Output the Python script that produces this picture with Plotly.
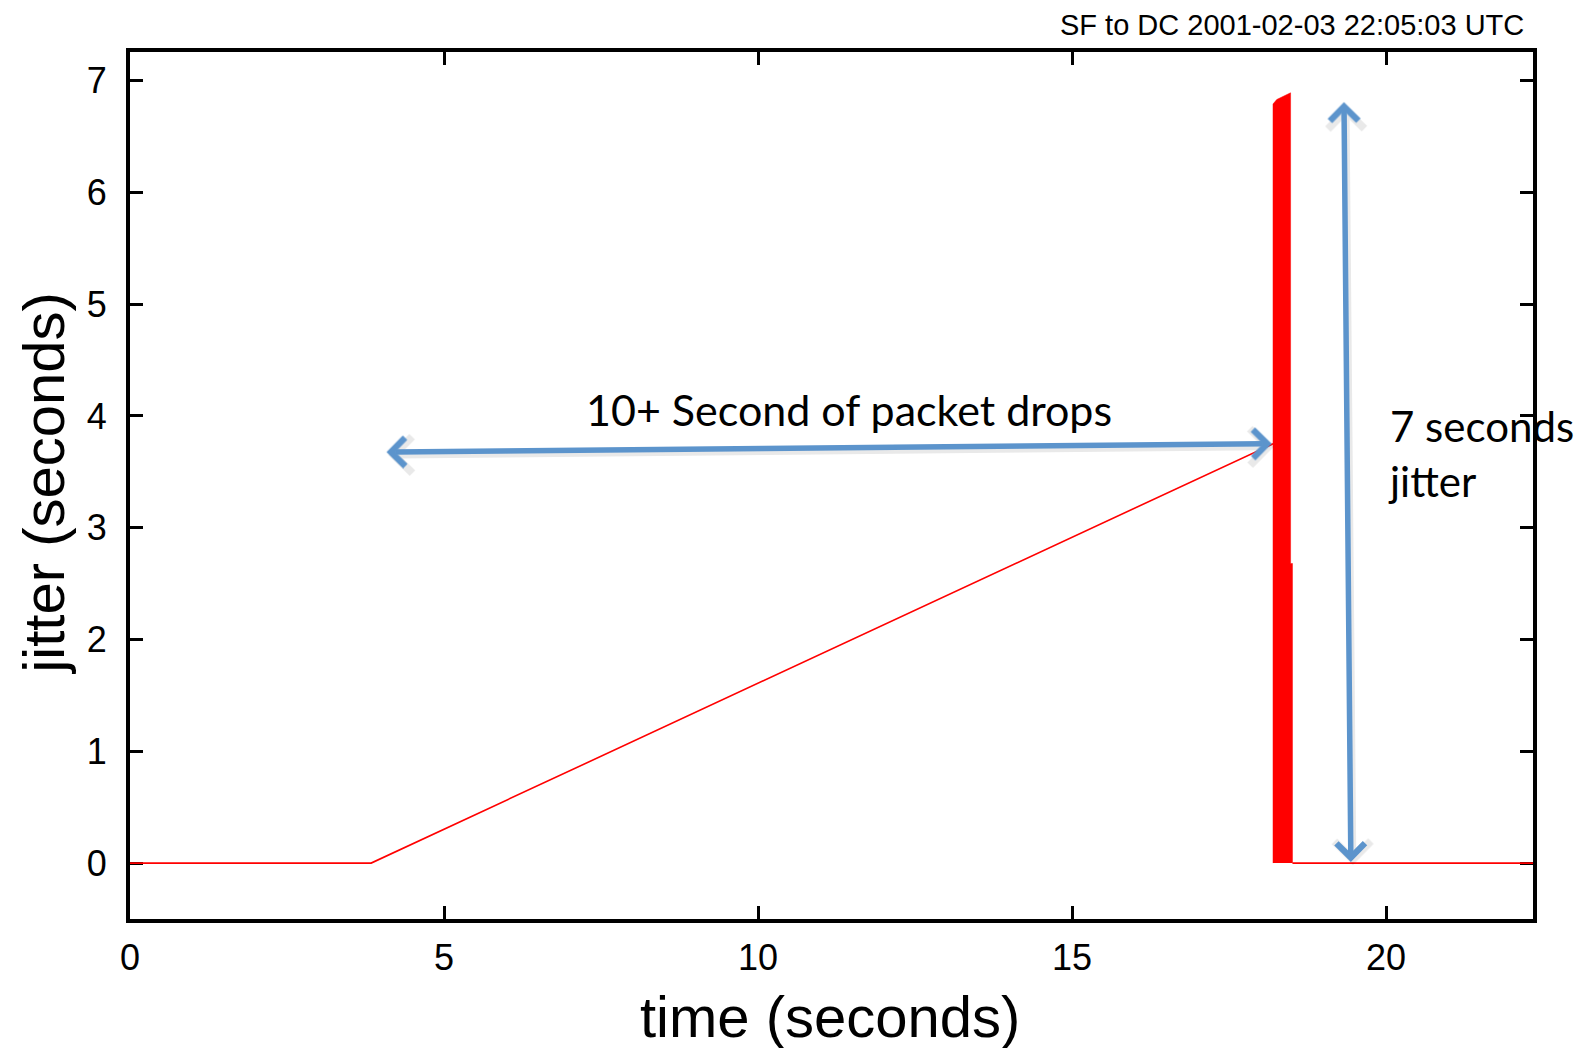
import plotly.graph_objects as go

# ---- data ----
time_s = [0.0, 3.84, 18.20, None, 18.51, 22.34]
jitter_s = [0.0, 0.0, 3.75, None, 0.0, 0.0]

# burst of jitter (dense oscillation drawn as its envelope)
burst_t = [18.20, 18.20, 18.26, 18.47, 18.48, 18.48, 18.51, 18.51]
burst_j = [0.0, 6.79, 6.83, 6.89, 6.89, 2.68, 2.68, 0.0]

x_ticks = [0, 5, 10, 15, 20]
y_ticks = [0, 1, 2, 3, 4, 5, 6, 7]

title_text = "SF to DC 2001-02-03 22:05:03 UTC"
x_title = "time (seconds)"
y_title = "jitter (seconds)"

# annotation arrows (tail -> head), in data units
drop_arrow = dict(x0=4.06, y0=3.676, x1=18.18, y1=3.751)
jitter_arrow = dict(x0=19.33, y0=6.82, x1=19.44, y1=0.01)
drop_label = "10+ Second of packet drops"
jitter_label = "7 seconds<br>jitter"

RED = "#ff0000"
BLUE = "#5c94cc"

fig = go.Figure()
fig.add_trace(go.Scatter(x=time_s, y=jitter_s, mode="lines",
                         line=dict(color=RED, width=1.6), hoverinfo="skip",
                         showlegend=False))
fig.add_trace(go.Scatter(x=burst_t, y=burst_j, mode="lines", fill="toself",
                         fillcolor=RED, line=dict(color=RED, width=0.5),
                         hoverinfo="skip", showlegend=False))

W, H = 1591, 1048
L, R, T, B = 130, 58, 52, 129
xr = [0, 22.34]
yr = [-0.5, 7.255]
px_x = (W - L - R) / (xr[1] - xr[0])
px_y = (H - T - B) / (yr[1] - yr[0])

annotations = []


def arrow(a, color, width, dx=0.0, dy=0.0):
    return dict(x=a["x1"] + dx, y=a["y1"] + dy, ax=a["x0"] + dx, ay=a["y0"] + dy,
                xref="x", yref="y", axref="x", ayref="y", text="",
                showarrow=True, arrowside="end+start", arrowhead=4,
                startarrowhead=4, arrowsize=1.0, startarrowsize=1.0,
                arrowwidth=width, arrowcolor=color)


# soft shadows
for a in (drop_arrow, jitter_arrow):
    annotations.append(arrow(a, "rgba(0,0,0,0.09)", 7, dx=2 / px_x, dy=-3 / px_y))
for a in (drop_arrow, jitter_arrow):
    annotations.append(arrow(a, BLUE, 5.5))

annotations += [
    dict(x=7.23, y=4.055, xref="x", yref="y", text=drop_label, showarrow=False,
         xanchor="left", yanchor="middle",
         font=dict(family="Lato", size=43, color="black")),
    dict(x=20.0, y=3.66, xref="x", yref="y", text=jitter_label, showarrow=False,
         xanchor="left", yanchor="middle", align="left",
         font=dict(family="Lato", size=42, color="black")),
    dict(x=0.995, y=1.0317, xref="paper", yref="paper", text=title_text,
         showarrow=False, xanchor="right", yanchor="middle",
         font=dict(family="Liberation Sans", size=29, color="black")),
    dict(x=0.4986, y=-0.112, xref="paper", yref="paper", text=x_title,
         showarrow=False, xanchor="center", yanchor="middle",
         font=dict(family="Liberation Sans", size=58, color="black")),
    dict(x=-0.062, y=0.5023, xref="paper", yref="paper", text=y_title,
         showarrow=False, xanchor="center", yanchor="middle", textangle=-90,
         font=dict(family="Liberation Sans", size=58, color="black")),
]

axis_common = dict(showline=True, linecolor="black", linewidth=4, mirror="allticks",
                   ticks="inside", ticklen=13, tickwidth=3, tickcolor="black",
                   showgrid=False, zeroline=False, layer="below traces",
                   tickfont=dict(family="Liberation Sans", size=36, color="black"))

fig.update_layout(
    width=W, height=H,
    margin=dict(l=L, r=R, t=T, b=B, autoexpand=False),
    paper_bgcolor="white", plot_bgcolor="white",
    xaxis=dict(range=xr, tickvals=x_ticks, ticklabelstandoff=4, **axis_common),
    yaxis=dict(range=yr, tickvals=y_ticks, ticklabelstandoff=12, **axis_common),
    annotations=annotations,
    showlegend=False,
)

fig.write_html("out.html")
